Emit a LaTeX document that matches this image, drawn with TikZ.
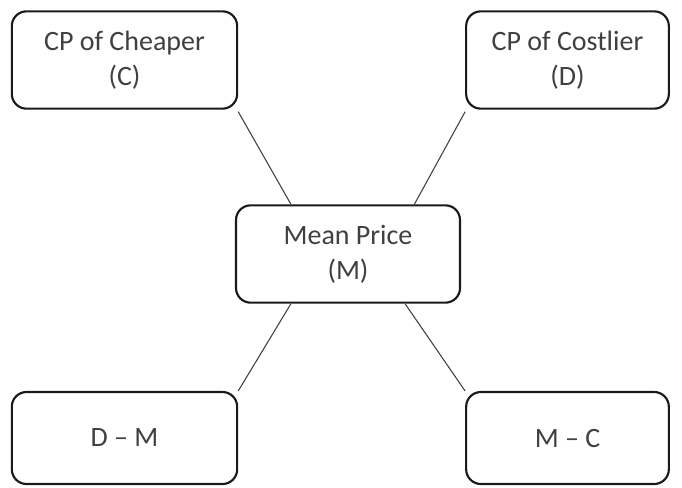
\documentclass[tikz,border=0pt]{standalone}
\usepackage{fontspec}
\setmainfont{Carlito}
\definecolor{txt}{HTML}{404040}
\definecolor{edge}{HTML}{1A1A1A}
\definecolor{conn}{HTML}{404040}
\begin{document}
\begin{tikzpicture}[x=0.75pt,y=-0.75pt,
  box/.style={draw=edge,line width=1.6pt,rounded corners=11pt,fill=white,
    text=txt,align=center,inner sep=0pt,
    font=\fontsize{21}{26}\selectfont},
  link/.style={draw=conn,line width=0.8pt}]
\useasboundingbox (0,0) rectangle (682,487);
\node[box,minimum width=169pt,minimum height=73pt] (A) at (124.5,60) {CP of Cheaper\\(C)};
\node[box,minimum width=152pt,minimum height=73pt] (B) at (567.5,60) {CP of Costlier\\(D)};
\node[box,minimum width=168pt,minimum height=73pt] (M) at (348,254) {Mean Price\\(M)};
\node[box,minimum width=169pt,minimum height=69pt] (D) at (124.5,438) {D – M};
\node[box,minimum width=152pt,minimum height=69pt] (E) at (567.5,438) {M – C};
\draw[link] ([yshift=-1.5pt]A.south east) -- ([xshift=42pt]M.north west);
\draw[link] ([yshift=-1.5pt]B.south west) -- ([xshift=-35pt]M.north east);
\draw[link] ([xshift=42pt]M.south west) -- (D.north east);
\draw[link] ([xshift=-42pt]M.south east) -- (E.north west);
\end{tikzpicture}
\end{document}
